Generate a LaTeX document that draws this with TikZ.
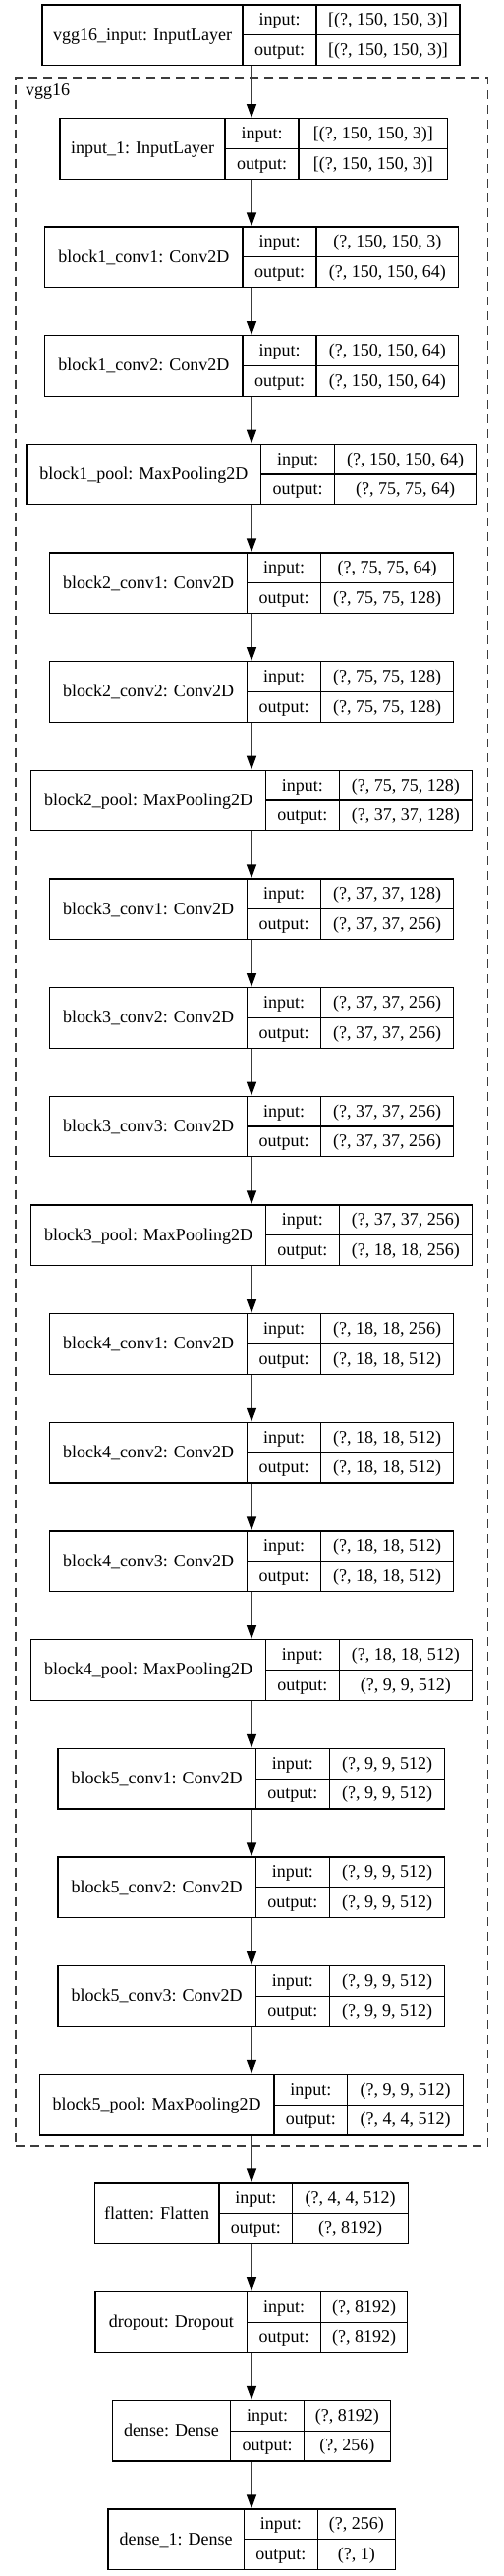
\documentclass[tikz,border=0pt]{standalone}
\usepackage{fontspec}
\setmainfont{Liberation Serif}
\usetikzlibrary{arrows.meta}
\definecolor{edgegray}{RGB}{60,60,60}

\tikzset{
    recbox/.style={draw,line width=1.3pt,inner sep=0pt},
    recline/.style={line width=1.3pt},
    cell/.style={inner sep=0pt,text height=13.5pt,text depth=2.7pt},
    edge/.style={draw=edgegray,line width=1.3pt,-{Triangle[length=14pt,width=10pt,color=black]}},
    clusterbox/.style={draw=edgegray,line width=1.3pt,dash pattern=on 9pt off 6pt,inner sep=0pt}
}

\newcommand{\layerrec}[9]{%
    \node[recbox,minimum width={(#6-#3)*1pt},minimum height=61.5pt] (#1) at ({(#3+#6)/2},{-#2-30.75}) {};
    \draw[recline] (#4,-#2) -- (#4,{-#2-61.5}) (#5,-#2) -- (#5,{-#2-61.5}) (#4,{-#2-30.75}) -- (#6,{-#2-30.75});
    \node[cell] (#1-name) at ({(#3+#4)/2},{-#2-30.75}) {#7};
    \node[cell] (#1-inlbl) at ({(#4+#5)/2},{-#2-15.375}) {input:};
    \node[cell] (#1-outlbl) at ({(#4+#5)/2},{-#2-46.125}) {output:};
    \node[cell] (#1-in) at ({(#5+#6)/2},{-#2-15.375}) {#8};
    \node[cell] (#1-out) at ({(#5+#6)/2},{-#2-46.125}) {#9};
}

\begin{document}
\begin{tikzpicture}[x=1pt,y=1pt,font=\fontsize{18}{21}\selectfont]
        \useasboundingbox (0,0) rectangle (512,-2623);
        \coordinate (axis) at (256,0);

        \node[clusterbox,minimum width=480.7pt,minimum height=2106pt] (vgg16) at (256.35,-1132) {};
        \node[anchor=base west,inner sep=0pt] (vgg16-lbl) at (26,-97.5) {vgg16};

        \layerrec{vgginput}{5}{43}{247}{322}{468}{vgg16\_input: InputLayer}{[(?, 150, 150, 3)]}{[(?, 150, 150, 3)]}
        \layerrec{input1}{120.7}{61}{229}{304}{455.7}{input\_1: InputLayer}{[(?, 150, 150, 3)]}{[(?, 150, 150, 3)]}
        \layerrec{b1conv1}{231}{45.7}{247}{322}{466.7}{block1\_conv1: Conv2D}{(?, 150, 150, 3)}{(?, 150, 150, 64)}
        \layerrec{b1conv2}{341.7}{45.7}{247}{322}{466.7}{block1\_conv2: Conv2D}{(?, 150, 150, 64)}{(?, 150, 150, 64)}
        \layerrec{b1pool}{452.3}{27}{265.7}{340.3}{485}{block1\_pool: MaxPooling2D}{(?, 150, 150, 64)}{(?, 75, 75, 64)}
        \layerrec{b2conv1}{563}{50.3}{251.7}{326.7}{461.7}{block2\_conv1: Conv2D}{(?, 75, 75, 64)}{(?, 75, 75, 128)}
        \layerrec{b2conv2}{673.7}{50.3}{251.7}{326.7}{461.7}{block2\_conv2: Conv2D}{(?, 75, 75, 128)}{(?, 75, 75, 128)}
        \layerrec{b2pool}{784.3}{31.7}{270.3}{345.3}{480.3}{block2\_pool: MaxPooling2D}{(?, 75, 75, 128)}{(?, 37, 37, 128)}
        \layerrec{b3conv1}{895}{50.3}{251.7}{326.7}{461.7}{block3\_conv1: Conv2D}{(?, 37, 37, 128)}{(?, 37, 37, 256)}
        \layerrec{b3conv2}{1005.7}{50.3}{251.7}{326.7}{461.7}{block3\_conv2: Conv2D}{(?, 37, 37, 256)}{(?, 37, 37, 256)}
        \layerrec{b3conv3}{1116.3}{50.3}{251.7}{326.7}{461.7}{block3\_conv3: Conv2D}{(?, 37, 37, 256)}{(?, 37, 37, 256)}
        \layerrec{b3pool}{1227}{31.7}{270.3}{345.3}{480.3}{block3\_pool: MaxPooling2D}{(?, 37, 37, 256)}{(?, 18, 18, 256)}
        \layerrec{b4conv1}{1337.7}{50.3}{251.7}{326.7}{461.7}{block4\_conv1: Conv2D}{(?, 18, 18, 256)}{(?, 18, 18, 512)}
        \layerrec{b4conv2}{1448.4}{50.3}{251.7}{326.7}{461.7}{block4\_conv2: Conv2D}{(?, 18, 18, 512)}{(?, 18, 18, 512)}
        \layerrec{b4conv3}{1559}{50.3}{251.7}{326.7}{461.7}{block4\_conv3: Conv2D}{(?, 18, 18, 512)}{(?, 18, 18, 512)}
        \layerrec{b4pool}{1669.7}{31.7}{270.3}{345.3}{480.3}{block4\_pool: MaxPooling2D}{(?, 18, 18, 512)}{(?, 9, 9, 512)}
        \layerrec{b5conv1}{1780.4}{59}{260.3}{335.3}{452.7}{block5\_conv1: Conv2D}{(?, 9, 9, 512)}{(?, 9, 9, 512)}
        \layerrec{b5conv2}{1891}{59}{260.3}{335.3}{452.7}{block5\_conv2: Conv2D}{(?, 9, 9, 512)}{(?, 9, 9, 512)}
        \layerrec{b5conv3}{2001.7}{59}{260.3}{335.3}{452.7}{block5\_conv3: Conv2D}{(?, 9, 9, 512)}{(?, 9, 9, 512)}
        \layerrec{b5pool}{2112.4}{40.3}{279}{353.7}{471.3}{block5\_pool: MaxPooling2D}{(?, 9, 9, 512)}{(?, 4, 4, 512)}
        \layerrec{flatten}{2223}{96.3}{223}{297.7}{415.3}{flatten: Flatten}{(?, 4, 4, 512)}{(?, 8192)}
        \layerrec{dropout}{2333.7}{97}{251.7}{326.7}{414.7}{dropout: Dropout}{(?, 8192)}{(?, 8192)}
        \layerrec{dense}{2444.4}{114.3}{234.7}{309.3}{397.3}{dense: Dense}{(?, 8192)}{(?, 256)}
        \layerrec{dense1}{2555}{110}{248.3}{323.3}{402.3}{dense\_1: Dense}{(?, 256)}{(?, 1)}

        \foreach \a/\b in {vgginput/input1,input1/b1conv1,b1conv1/b1conv2,b1conv2/b1pool,b1pool/b2conv1,b2conv1/b2conv2,b2conv2/b2pool,b2pool/b3conv1,b3conv1/b3conv2,b3conv2/b3conv3,b3conv3/b3pool,b3pool/b4conv1,b4conv1/b4conv2,b4conv2/b4conv3,b4conv3/b4pool,b4pool/b5conv1,b5conv1/b5conv2,b5conv2/b5conv3,b5conv3/b5pool,b5pool/flatten,flatten/dropout,dropout/dense,dense/dense1}
            \draw[edge] (\a.south -| axis) -- (\b.north -| axis);
    \end{tikzpicture}
\end{document}
